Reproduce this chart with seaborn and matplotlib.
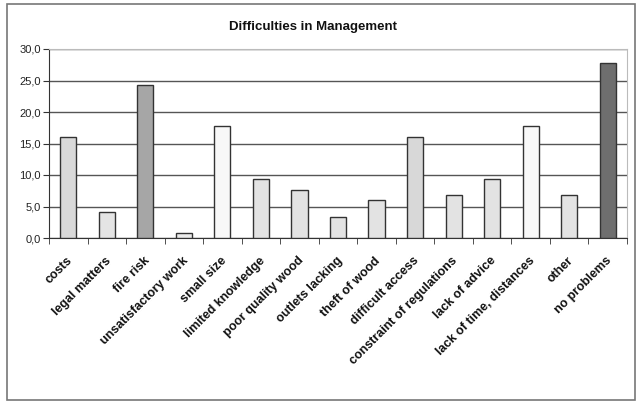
import pandas as pd
import seaborn as sns
import matplotlib.pyplot as plt
from matplotlib.patches import Rectangle
from matplotlib.ticker import FuncFormatter
from matplotlib.transforms import ScaledTranslation

categories = ['costs', 'legal matters', 'fire risk', 'unsatisfactory work', 'small size',
              'limited knowledge', 'poor quality wood', 'outlets lacking', 'theft of wood',
              'difficult access', 'constraint of regulations', 'lack of advice',
              'lack of time, distances', 'other', 'no problems']
values = [16.0, 4.2, 24.3, 0.8, 17.7, 9.3, 7.6, 3.4, 6.0, 16.0, 6.8, 9.3, 17.7, 6.8, 27.7]
bar_colors = ['#d9d9d9', '#e4e4e4', '#a6a6a6', '#ececec', '#f8f8f8', '#e3e3e3', '#e3e3e3',
              '#e3e3e3', '#e3e3e3', '#d8d8d8', '#e3e3e3', '#e3e3e3', '#f8f8f8', '#e3e3e3',
              '#6e6e6e']

df = pd.DataFrame({'category': categories, 'value': values})

sns.set_style('white')
plt.rcParams['font.family'] = ['Liberation Sans', 'DejaVu Sans']

fig = plt.figure(figsize=(6.37, 4.03), dpi=100)
ax = fig.add_axes([49/637, 1 - 238/403, (627 - 49)/637, (238 - 49)/403])

sns.barplot(data=df, x='category', y='value', hue='category', palette=bar_colors,
            legend=False, width=0.42, edgecolor='#333333', linewidth=1.0, ax=ax, zorder=3)

ax.set_ylim(0, 30)
ax.set_xlim(-0.5, len(categories) - 0.5)
ax.set_yticks([0, 5, 10, 15, 20, 25, 30])
ax.yaxis.set_major_formatter(FuncFormatter(lambda v, p: f'{v:.1f}'.replace('.', ',')))
ax.grid(axis='y', color='#555555', linewidth=1.0, zorder=0)
ax.set_axisbelow(True)

for side in ['top', 'right']:
    ax.spines[side].set_color('#bbbbbb')
for side in ['left', 'bottom']:
    ax.spines[side].set_color('#333333')

ax.set_xlabel('')
ax.set_ylabel('')
ax.set_xticks([i - 0.5 for i in range(len(categories) + 1)], minor=True)
ax.tick_params(axis='x', which='major', length=0, pad=12)
ax.tick_params(axis='x', which='minor', length=4, color='#333333', direction='out', bottom=True)
ax.tick_params(axis='y', length=4, color='#333333', direction='out', left=True, labelsize=8,
               labelcolor='#222222', pad=2)
ax.set_xticks(range(len(categories)))
ax.set_xticklabels(categories, rotation=45, ha='right', rotation_mode='anchor',
                   fontsize=9, fontweight='bold', color='#111111')
shift = ScaledTranslation(-2/100, 0, fig.dpi_scale_trans)
for lab in ax.get_xticklabels():
    lab.set_transform(lab.get_transform() + shift)

fig.text(313/637, 1 - 27/403, 'Difficulties in Management', ha='center', va='center',
         fontsize=9.5, fontweight='bold', color='#111111')

fig.patches.append(Rectangle((7/637, 3/403), 628/637, 396/403, transform=fig.transFigure,
                             fill=False, edgecolor='#777777', linewidth=1.2))

plt.savefig('out.png', dpi=100)
plt.close()
